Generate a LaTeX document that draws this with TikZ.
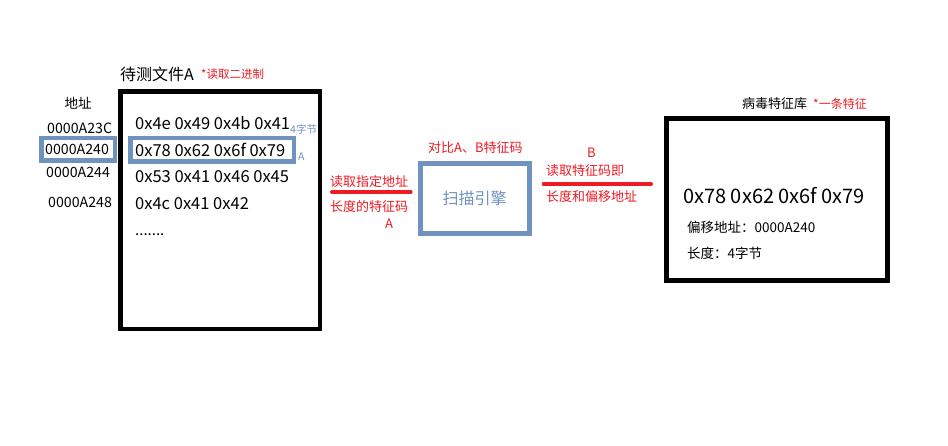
\documentclass[tikz,border=0pt]{standalone}
\usepackage{fontspec}
\setmainfont{Noto Sans CJK SC}
\definecolor{bluegray}{RGB}{112,146,190}
\definecolor{redtxt}{RGB}{237,28,36}
\begin{document}
\begin{tikzpicture}[x=1pt,y=-1pt,
  txt/.style={inner sep=0pt,anchor=west},
  bigbox/.style={draw=black,line width=5pt,inner sep=0pt},
  hlbox/.style={draw=bluegray,line width=4.5pt,inner sep=0pt},
  redlab/.style={inner sep=0pt,anchor=west,text=redtxt,font=\fontsize{13}{15}\selectfont},
  redline/.style={draw=redtxt,line width=4pt,line cap=round}]
\useasboundingbox[fill=white] (0,0) rectangle (948,446);
% file A
\node[bigbox,line width=4.5pt,minimum width=199.5pt,minimum height=237.5pt] (fileA) at (220.25,210.25) {};
\node[txt,font=\fontsize{16}{18}\selectfont] (titleA) at (120,74) {待测文件A};
\node[txt,text=redtxt,font=\fontsize{11.5}{13}\selectfont] (noteA) at (201,74.5) {*读取二进制};
% address column
\node[hlbox,minimum width=73.5pt,minimum height=22.5pt] (addrhl) at (78,149.5) {};
\node[inner sep=0pt,font=\fontsize{13.5}{15}\selectfont] (addrtitle) at (78,103) {地址};
\node[txt,font=\fontsize{14.2}{16}\selectfont] (a1) at (47,128) {0000A23C};
\node[txt,font=\fontsize{14.2}{16}\selectfont] (a2) at (45,149) {0000A240};
\node[txt,font=\fontsize{14.2}{16}\selectfont] (a3) at (46,172) {0000A244};
\node[txt,font=\fontsize{14.2}{16}\selectfont] (a4) at (48,202) {0000A248};
% hex rows
\node[hlbox,minimum width=163.5pt,minimum height=23.5pt] (rowhl) at (212,150) {};
\node[txt,font=\fontsize{16.5}{18}\selectfont] (r1) at (135,123) {0x4e 0x49 0x4b 0x41};
\node[txt,font=\fontsize{16.5}{18}\selectfont] (r2) at (135,150) {0x78 0x62 0x6f 0x79};
\node[txt,font=\fontsize{16.5}{18}\selectfont] (r3) at (135,177) {0x53 0x41 0x46 0x45};
\node[txt,font=\fontsize{16.5}{18}\selectfont] (r4) at (135,204) {0x4c 0x41 0x42};
\node[txt,font=\fontsize{15}{17}\selectfont] (r5) at (135,234.5) {.......};
\node[txt,text=bluegray,font=\fontsize{10.5}{12}\selectfont] (bytes) at (290,129) {4字节};
\node[txt,text=bluegray,font=\fontsize{10.5}{12}\selectfont] (labA) at (298,157) {A};
% scan engine
\node[bigbox,draw=bluegray,minimum width=109pt,minimum height=70pt,text=bluegray,font=\fontsize{16}{18}\selectfont] (engine) at (474.7,198.5) {扫描引擎};
\node[redlab] (cmp) at (428,148) {对比A、B特征码};
% left red label
\coordinate (l1) at (332,192);
\coordinate (l2) at (410.7,192);
\draw[redline] (l1) -- (l2);
\node[redlab] (lt1) at (330,182) {读取指定地址};
\node[redlab] (lt2) at (330,207) {长度的特征码};
\node[redlab] (lt3) at (385,224) {A};
% right red label
\coordinate (r1a) at (543.7,184);
\coordinate (r2a) at (651,184);
\draw[redline] (r1a) -- (r2a);
\node[redlab] (rt0) at (587,153) {B};
\node[redlab] (rt1) at (546,171) {读取特征码即};
\node[redlab] (rt2) at (546,197) {长度和偏移地址};
% virus library
\node[bigbox,minimum width=221pt,minimum height=162pt] (lib) at (777,199.5) {};
\node[txt,font=\fontsize{13}{15}\selectfont] (libtitle) at (742,104) {病毒特征库};
\node[txt,text=redtxt,font=\fontsize{12}{14}\selectfont] (libnote) at (813,104) {*一条特征};
\node[txt,font=\fontsize{20}{22}\selectfont] (libhex) at (683,196) {0x78 0x62 0x6f 0x79};
\node[txt,font=\fontsize{13.5}{15}\selectfont] (off) at (687,227) {偏移地址：0000A240};
\node[txt,font=\fontsize{13.5}{15}\selectfont] (len) at (687,253) {长度：4字节};
\end{tikzpicture}
\end{document}
